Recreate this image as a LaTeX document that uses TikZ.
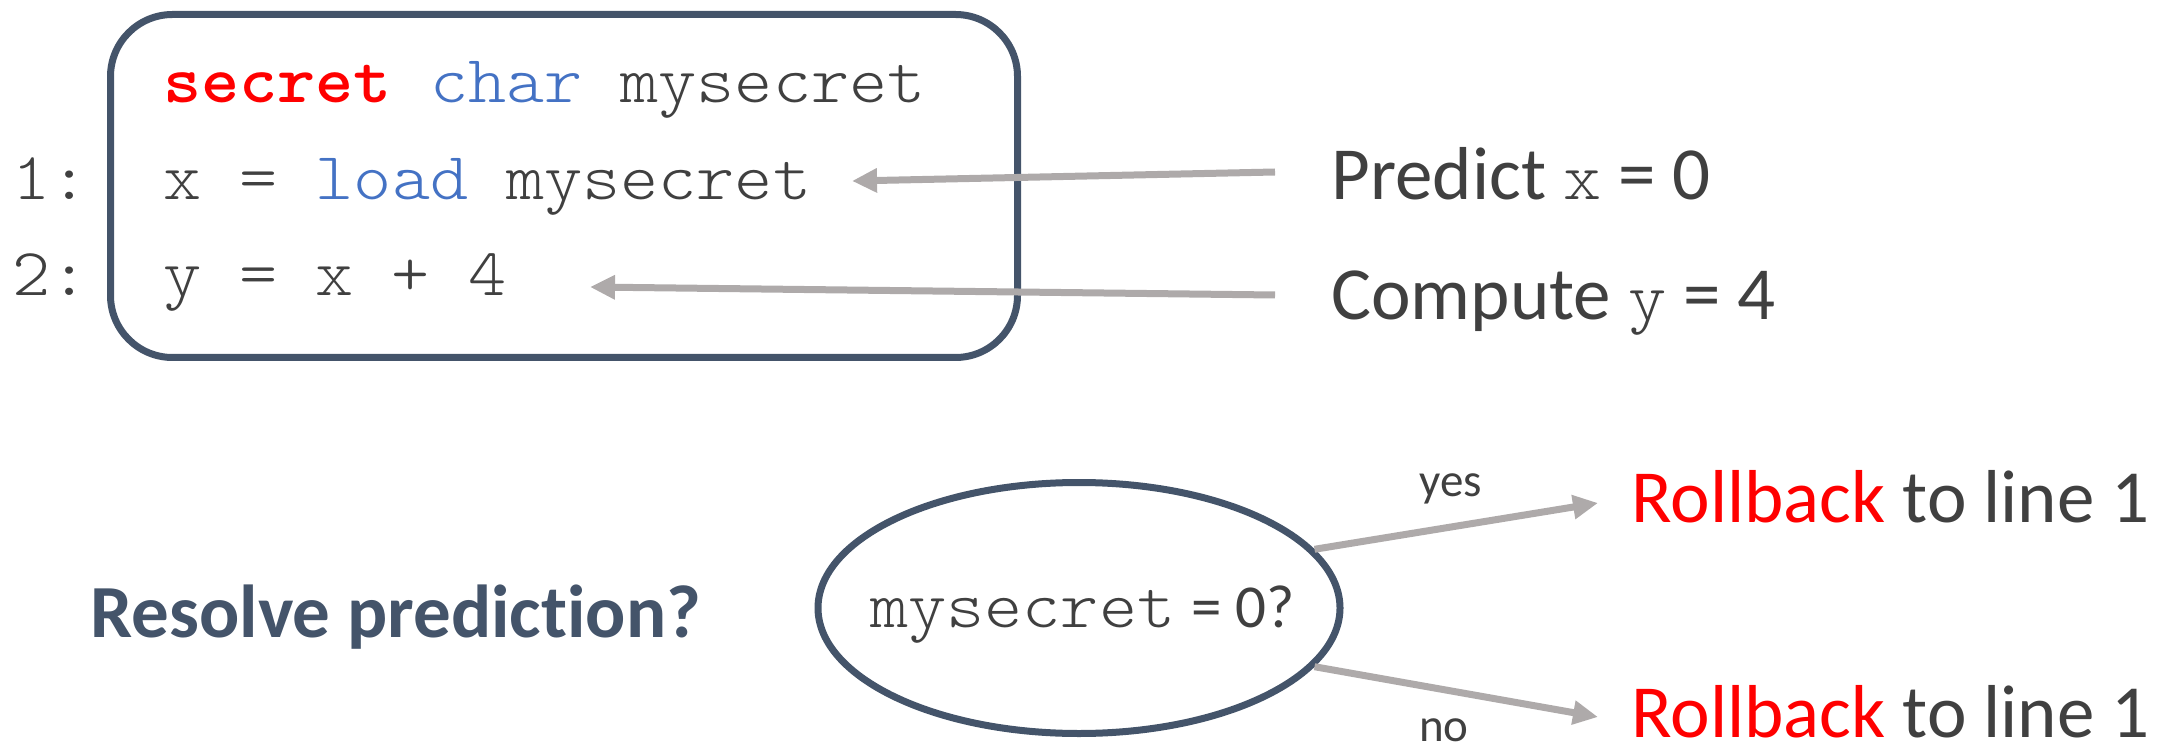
\documentclass[tikz,border=0pt]{standalone}
\usepackage{fontspec}
\setmainfont{Carlito}[Ligatures=NoCommon]
\newfontfamily\cdfont{Latin Modern Mono Light}[FakeStretch=1.08]
\usetikzlibrary{arrows.meta,shapes.geometric}
\definecolor{boxc}{HTML}{44546A}
\definecolor{txt}{HTML}{404040}
\definecolor{kw}{HTML}{4472C4}
\definecolor{arr}{HTML}{AEAAAA}
\newcommand\cd[1]{{\fontsize{33.6}{40}\cdfont #1}}
\begin{document}
\begin{tikzpicture}[x=0.5pt,y=-0.5pt,
  code/.style={anchor=base west, inner sep=0pt, font=\fontsize{33.6}{40}\cdfont, text=txt},
  lbl/.style={anchor=base west, inner sep=0pt, font=\fontsize{37.5}{45}\selectfont, text=txt},
  conn/.style={draw=arr, line width=3.5pt, -{Triangle[length=12.5pt,width=11.5pt]}},
  small/.style={inner sep=0pt, anchor=base, font=\fontsize{23.5}{28}\selectfont, text=txt},
  outline/.style={draw=boxc, line width=3.5pt, inner sep=0pt}]
\useasboundingbox (0,0) rectangle (2161,748);
\node[outline, rounded corners=31pt, minimum width=453.5pt, minimum height=171.5pt] (box) at (564,186) {};
\node[code] (l0) at (163,103) {\textcolor{red}{\bfseries secret} \textcolor{kw}{char} mysecret};
\node[code] (l1) at (163,200) {x = \textcolor{kw}{load} mysecret};
\node[code] (l2) at (163,296) {y = x + 4};
\node[code] (n1) at (12,200) {1:};
\node[code] (n2) at (12,296) {2:};
\node[lbl] (pred) at (1331,200) {Predict \cd{x} = 0};
\node[lbl] (comp) at (1331,320) {Compute \cd{y} = 4};
\node[anchor=base west, inner sep=0pt, font=\fontsize{37.5}{45}\selectfont\bfseries, text=boxc] (res) at (90,637) {Resolve prediction?};
\node[outline, ellipse, minimum width=261pt, minimum height=125.5pt] (ell) at (1079,608) {};
\node[anchor=base west, inner sep=0pt, font=\fontsize{30.5}{36}\selectfont, text=txt] (q) at (870,627) {\cd{mysecret}\hspace{8pt}= 0?};
\node[lbl] (rb1) at (1631,522) {\textcolor{red}{Rollback} to line 1};
\node[lbl] (rb2) at (1631,737) {\textcolor{red}{Rollback} to line 1};
\node[small] (yes) at (1451,496) {yes};
\node[small] (no) at (1444,741) {no};
\coordinate (a1s) at (1275,172);
\coordinate (a1e) at (852,181);
\coordinate (a2s) at (1275,295);
\coordinate (a2e) at (590,287);
\coordinate (ye) at (1598,503);
\coordinate (ne) at (1598,717);
\draw[conn] (a1s) -- (a1e);
\draw[conn] (a2s) -- (a2e);
\draw[conn] (ell.14) -- (ye);
\draw[conn] (ell.-14) -- (ne);
\end{tikzpicture}
\end{document}
